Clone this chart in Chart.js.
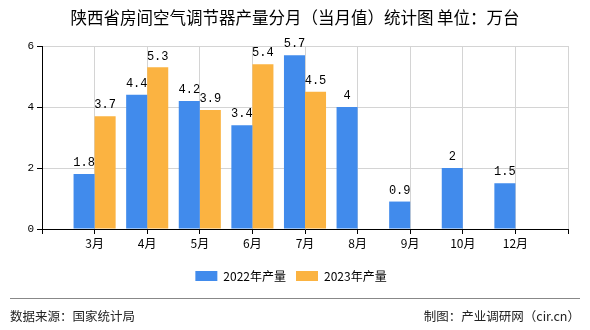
<!DOCTYPE html>
<html>
<head>
<meta charset="utf-8">
<script src="https://cdn.jsdelivr.net/npm/chart.js@4"></script>
<style>
  html, body { margin: 0; padding: 0; background: #fff; }
  #wrap { position: relative; width: 590px; height: 330px; overflow: hidden; }
  #chart { position: absolute; left: 0; top: 0; }
  #title { position: absolute; left: 0; width: 590px; text-align: center; top: 5px; font: 16.5px "Noto Sans CJK SC", sans-serif; color: #000; white-space: nowrap; }
  #rule { position: absolute; left: 10px; width: 570px; top: 298px; height: 0; border-top: 1px solid #888; }
  #src { position: absolute; left: 10px; top: 306px; font: 12.5px "Noto Sans CJK SC", sans-serif; color: #222; }
  #by { position: absolute; right: 10px; top: 306px; font: 12.5px "Noto Sans CJK SC", sans-serif; color: #222; }
</style>
</head>
<body>
<div id="wrap">
  <canvas id="chart" width="590" height="330"></canvas>
  <div id="title">陕西省房间空气调节器产量分月（当月值）统计图 单位：万台</div>
  <div id="rule"></div>
  <div id="src">数据来源：国家统计局</div>
  <div id="by">制图：产业调研网（cir.cn）</div>
</div>
<script>
const categories = ['', '3月', '4月', '5月', '6月', '7月', '8月', '9月', '10月', '12月', ''];
const series2022 = [null, 1.8, 4.4, 4.2, 3.4, 5.7, 4, 0.9, 2, 1.5, null];
const series2023 = [null, 3.7, 5.3, 3.9, 5.4, 4.5, null, null, null, null, null];
const yTicks = [0, 2, 4, 6];
const seriesNames = ['2022年产量', '2023年产量'];

const valueLabels = {
  id: 'valueLabels',
  afterDatasetsDraw(chart) {
    const ctx = chart.ctx;
    ctx.save();
    ctx.font = '12px "Liberation Mono", monospace';
    ctx.fillStyle = '#000';
    ctx.textAlign = 'center';
    ctx.textBaseline = 'bottom';
    chart.data.datasets.forEach((ds, di) => {
      const meta = chart.getDatasetMeta(di);
      meta.data.forEach((el, i) => {
        const v = ds.data[i];
        if (v === null || v === undefined) return;
        ctx.fillText(String(v), el.x, el.y - 5);
      });
    });
    ctx.restore();
  }
};

const legendShift = {
  id: 'legendShift',
  afterLayout(chart) {
    if (chart.legend) { chart.legend.left += 7; chart.legend.right += 7; }
  }
};

new Chart(document.getElementById('chart'), {
  type: 'bar',
  data: {
    labels: categories,
    datasets: [
      { label: seriesNames[0], data: series2022, backgroundColor: '#418bec', categoryPercentage: 0.8, barPercentage: 1 },
      { label: seriesNames[1], data: series2023, backgroundColor: '#fbb341', categoryPercentage: 0.8, barPercentage: 1 }
    ]
  },
  options: {
    responsive: false,
    animation: false,
    devicePixelRatio: 1,
    layout: { padding: { top: 46, right: 22, bottom: 38, left: 0 } },
    plugins: {
      title: { display: false },
      tooltip: { enabled: false },
      legend: {
        position: 'bottom',
        labels: {
          boxWidth: 22, boxHeight: 10, padding: 10,
          font: { size: 12, family: '"Noto Sans CJK SC", sans-serif' },
          color: '#000'
        }
      }
    },
    scales: {
      x: {
        type: 'category',
        offset: false,
        afterFit(scale) { scale.height = 31; },
        grid: { color: '#d4d4d4', tickColor: '#000', tickLength: 5, offset: false },
        border: { color: '#000', width: 1 },
        ticks: { color: '#000', font: { size: 12, family: '"Noto Sans CJK SC", sans-serif' }, padding: 2, maxRotation: 0, autoSkip: false }
      },
      y: {
        min: 0, max: 6,
        afterFit(scale) { scale.width = 42; },
        afterBuildTicks(scale) { scale.ticks = yTicks.map(v => ({ value: v })); },
        grid: { color: '#d4d4d4', tickColor: '#000', tickLength: 5 },
        border: { color: '#000', width: 1 },
        ticks: { color: '#000', font: { size: 11, family: '"Liberation Mono", monospace' }, padding: 3 }
      }
    }
  },
  plugins: [valueLabels, legendShift]
});
</script>
</body>
</html>
